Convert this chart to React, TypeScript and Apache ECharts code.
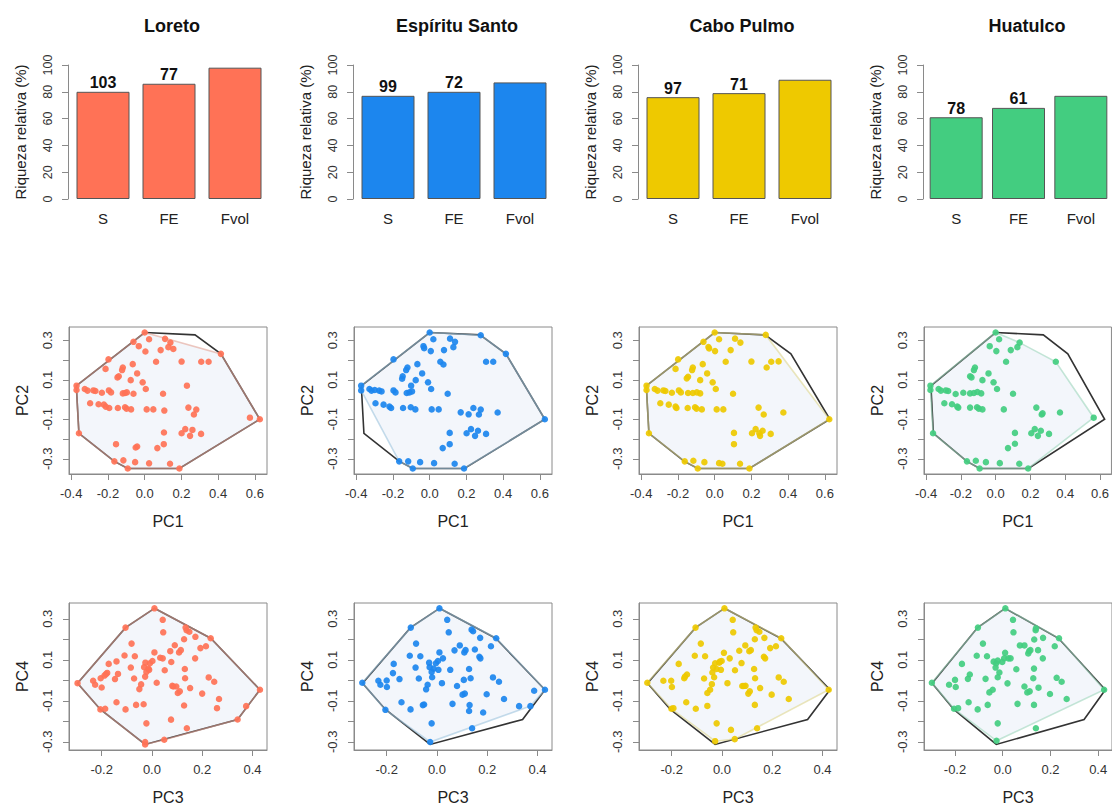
import React, { useEffect, useRef } from "react";
import * as echarts from "echarts";

const sites = ["Loreto", "Espíritu Santo", "Cabo Pulmo", "Huatulco"];
const siteColors = ["#FF7256", "#1C86EE", "#EEC900", "#43CD80"];
const siteLineColors = ["#E2A496", "#9EC4DE", "#DDD590", "#9ED6BC"];
const barCategories = ["S", "FE", "Fvol"];
const loretoBars = [80, 86, 98];
const espirituBars = [77, 80, 87];
const caboBars = [76, 79, 89];
const huatulcoBars = [61, 68, 77];
const loretoCounts = ["103", "77"];
const espirituCounts = ["99", "72"];
const caboCounts = ["97", "71"];
const huatulcoCounts = ["78", "61"];

const pc1Ticks = [-0.4, -0.2, 0, 0.2, 0.4, 0.6];
const pc2Ticks = [-0.3, -0.2, -0.1, 0, 0.1, 0.2, 0.3];
const pc2Labels = [-0.3, -0.1, 0.1, 0.3];
const pc3Ticks = [-0.2, 0, 0.2, 0.4];
const pc4Ticks = [-0.3, -0.2, -0.1, 0, 0.1, 0.2, 0.3];
const pc4Labels = [-0.3, -0.1, 0.1, 0.3];

const globalHull12 = [[0.0, 0.339], [0.274, 0.327], [0.415, 0.231], [0.627, -0.1], [0.189, -0.349], [-0.092, -0.349], [-0.165, -0.313], [-0.358, -0.171], [-0.371, 0.048], [-0.371, 0.07]];
const globalHull34 = [[0.01, 0.351], [0.234, 0.205], [0.43, -0.046], [0.341, -0.191], [-0.027, -0.313], [-0.205, -0.142], [-0.296, -0.014], [-0.105, 0.257]];

const loretoHull12 = [[0.0, 0.339], [0.415, 0.231], [0.627, -0.1], [0.189, -0.349], [-0.092, -0.349], [-0.165, -0.313], [-0.358, -0.171], [-0.371, 0.048], [-0.371, 0.07]];
const espirituHull12 = [[0.0, 0.339], [0.278, 0.325], [0.415, 0.231], [0.627, -0.1], [0.187, -0.349], [-0.092, -0.349], [-0.166, -0.313], [-0.373, 0.046], [-0.373, 0.07]];
const caboHull12 = [[0.0, 0.339], [0.278, 0.327], [0.624, -0.1], [0.189, -0.349], [-0.092, -0.349], [-0.163, -0.313], [-0.358, -0.171], [-0.371, 0.048], [-0.371, 0.07]];
const huatulcoHull12 = [[0.0, 0.339], [0.138, 0.288], [0.346, 0.191], [0.564, -0.092], [0.187, -0.349], [-0.092, -0.349], [-0.165, -0.313], [-0.36, -0.171], [-0.375, 0.048], [-0.375, 0.07]];

const loretoHull34 = [[0.01, 0.351], [0.234, 0.205], [0.43, -0.046], [0.341, -0.191], [0.049, -0.29], [-0.027, -0.313], [-0.205, -0.142], [-0.296, -0.014], [-0.105, 0.257]];
const espirituHull34 = [[0.01, 0.351], [0.236, 0.205], [0.43, -0.046], [0.372, -0.126], [-0.027, -0.301], [-0.205, -0.144], [-0.297, -0.012], [-0.104, 0.257]];
const caboHull34 = [[0.01, 0.351], [0.236, 0.205], [0.425, -0.046], [0.051, -0.287], [-0.027, -0.297], [-0.201, -0.139], [-0.297, -0.012], [-0.105, 0.257]];
const huatulcoHull34 = [[0.011, 0.351], [0.236, 0.205], [0.425, -0.046], [-0.026, -0.295], [-0.204, -0.139], [-0.297, -0.012], [-0.104, 0.257]];

const loretoPC12 = [[0.0, 0.339], [0.024, 0.305], [-0.061, 0.292], [-0.032, 0.27], [0.004, 0.243], [0.111, 0.307], [0.14, 0.288], [0.129, 0.265], [0.156, 0.256], [0.087, 0.25], [0.062, 0.191], [0.201, 0.192], [0.308, 0.191], [0.348, 0.191], [0.415, 0.231], [-0.197, 0.203], [-0.213, 0.155], [-0.119, 0.162], [-0.123, 0.149], [-0.065, 0.179], [-0.148, 0.112], [-0.141, 0.118], [-0.076, 0.098], [-0.041, 0.132], [-0.011, 0.087], [0.006, 0.053], [0.1, 0.029], [0.23, 0.07], [-0.371, 0.07], [-0.371, 0.048], [-0.326, 0.053], [-0.311, 0.045], [-0.279, 0.046], [-0.268, 0.043], [-0.233, 0.034], [-0.195, 0.046], [-0.183, 0.036], [-0.119, 0.031], [-0.107, 0.033], [-0.097, 0.036], [-0.061, 0.029], [-0.297, -0.019], [-0.251, -0.024], [-0.222, -0.026], [-0.212, -0.036], [-0.193, -0.043], [-0.146, -0.043], [-0.107, -0.039], [-0.099, -0.046], [-0.074, -0.05], [0.011, -0.05], [0.047, -0.05], [0.107, -0.056], [0.238, -0.041], [0.281, -0.051], [0.268, -0.076], [0.573, -0.092], [0.627, -0.1], [-0.358, -0.171], [0.221, -0.15], [0.201, -0.171], [0.26, -0.154], [0.247, -0.184], [0.307, -0.174], [0.105, -0.167], [0.104, -0.226], [0.069, -0.246], [-0.049, -0.243], [-0.041, -0.238], [-0.156, -0.226], [-0.165, -0.313], [-0.116, -0.308], [-0.052, -0.317], [0.024, -0.323], [0.138, -0.325], [-0.092, -0.349], [0.189, -0.349]];
const espirituPC12 = [[0.0, 0.339], [0.02, 0.305], [-0.034, 0.27], [-0.03, 0.26], [0.006, 0.245], [0.111, 0.308], [0.138, 0.292], [0.129, 0.265], [0.078, 0.25], [0.058, 0.191], [0.075, 0.177], [0.278, 0.325], [0.415, 0.231], [0.307, 0.191], [0.346, 0.191], [-0.197, 0.203], [-0.067, 0.179], [-0.121, 0.162], [-0.128, 0.149], [-0.041, 0.132], [-0.147, 0.118], [-0.15, 0.105], [-0.076, 0.098], [-0.009, 0.087], [-0.101, 0.07], [0.008, 0.053], [0.098, 0.029], [-0.373, 0.07], [-0.373, 0.046], [-0.328, 0.053], [-0.317, 0.045], [-0.299, 0.048], [-0.275, 0.045], [-0.262, 0.041], [-0.197, 0.046], [-0.186, 0.036], [-0.125, 0.033], [-0.11, 0.036], [-0.096, 0.041], [-0.295, -0.019], [-0.251, -0.026], [-0.219, -0.036], [-0.21, -0.043], [-0.145, -0.043], [-0.103, -0.039], [-0.078, -0.05], [0.011, -0.05], [0.049, -0.05], [0.169, -0.065], [0.212, -0.075], [0.238, -0.043], [0.278, -0.051], [0.268, -0.076], [0.37, -0.066], [0.627, -0.1], [0.109, -0.169], [0.109, -0.226], [0.071, -0.246], [0.201, -0.171], [0.225, -0.15], [0.247, -0.184], [0.263, -0.158], [0.307, -0.174], [-0.166, -0.313], [-0.117, -0.313], [-0.052, -0.317], [0.024, -0.322], [0.136, -0.325], [-0.092, -0.349], [0.187, -0.349]];
const caboPC12 = [[0.0, 0.339], [0.024, 0.305], [-0.061, 0.292], [-0.034, 0.266], [-0.03, 0.258], [0.002, 0.245], [0.111, 0.308], [0.14, 0.288], [0.087, 0.25], [0.06, 0.191], [0.2, 0.192], [0.308, 0.191], [0.348, 0.193], [0.283, 0.162], [0.278, 0.327], [0.624, -0.1], [-0.199, 0.203], [-0.213, 0.155], [-0.145, 0.115], [-0.152, 0.107], [-0.119, 0.162], [-0.123, 0.149], [-0.065, 0.179], [-0.041, 0.132], [-0.079, 0.098], [-0.011, 0.087], [0.006, 0.053], [0.1, 0.029], [-0.371, 0.07], [-0.371, 0.048], [-0.326, 0.053], [-0.311, 0.045], [-0.279, 0.046], [-0.268, 0.043], [-0.233, 0.034], [-0.195, 0.046], [-0.184, 0.036], [-0.145, 0.033], [-0.119, 0.033], [-0.097, 0.036], [-0.079, 0.031], [-0.296, -0.019], [-0.25, -0.026], [-0.213, -0.036], [-0.208, -0.043], [-0.147, -0.043], [-0.107, -0.039], [-0.099, -0.046], [-0.07, -0.05], [0.011, -0.05], [0.047, -0.05], [0.239, -0.041], [0.267, -0.076], [0.374, -0.066], [-0.358, -0.171], [0.105, -0.169], [0.105, -0.226], [0.203, -0.171], [0.223, -0.15], [0.243, -0.171], [0.261, -0.158], [0.247, -0.184], [0.305, -0.174], [-0.163, -0.313], [-0.116, -0.31], [-0.056, -0.317], [0.024, -0.322], [0.042, -0.325], [0.138, -0.325], [-0.092, -0.349], [0.189, -0.349]];
const huatulcoPC12 = [[0.0, 0.339], [0.02, 0.305], [-0.034, 0.27], [0.004, 0.245], [0.087, 0.25], [0.125, 0.265], [0.138, 0.288], [0.06, 0.191], [0.346, 0.191], [0.564, -0.092], [-0.119, 0.162], [-0.125, 0.149], [-0.147, 0.118], [-0.139, 0.112], [-0.076, 0.098], [-0.041, 0.132], [-0.012, 0.087], [0.008, 0.053], [0.1, 0.029], [-0.375, 0.07], [-0.375, 0.048], [-0.328, 0.053], [-0.315, 0.045], [-0.286, 0.046], [-0.273, 0.043], [-0.23, 0.028], [-0.186, 0.034], [-0.147, 0.031], [-0.125, 0.033], [-0.105, 0.038], [-0.083, 0.031], [-0.295, -0.019], [-0.251, -0.024], [-0.221, -0.036], [-0.215, -0.041], [-0.147, -0.041], [-0.107, -0.039], [-0.097, -0.046], [-0.076, -0.05], [0.047, -0.05], [0.234, -0.041], [0.265, -0.076], [0.27, -0.07], [0.37, -0.066], [-0.36, -0.171], [0.111, -0.169], [0.111, -0.224], [0.071, -0.246], [0.205, -0.171], [0.225, -0.15], [0.243, -0.184], [0.26, -0.158], [0.307, -0.174], [-0.165, -0.313], [-0.114, -0.31], [-0.056, -0.317], [0.024, -0.322], [0.136, -0.325], [-0.092, -0.349], [0.187, -0.349]];

const loretoPC34 = [[0.01, 0.351], [0.043, 0.295], [0.045, 0.234], [-0.105, 0.257], [-0.081, 0.179], [-0.109, 0.121], [-0.068, 0.117], [-0.172, 0.08], [-0.141, 0.092], [-0.178, 0.036], [-0.183, 0.03], [-0.189, 0.023], [-0.204, 0.01], [-0.234, -0.002], [-0.226, -0.022], [-0.2, -0.035], [-0.296, -0.014], [-0.135, 0.031], [-0.147, 0.006], [-0.071, 0.009], [-0.084, 0.062], [-0.026, 0.086], [-0.031, 0.064], [-0.022, 0.041], [-0.014, 0.057], [-0.008, 0.083], [0.002, 0.094], [0.01, 0.136], [0.033, 0.11], [0.043, 0.107], [-0.043, -0.02], [-0.05, -0.043], [-0.027, 0.018], [-0.011, 0.051], [0.019, -0.012], [0.051, 0.049], [0.077, 0.089], [0.073, 0.142], [0.091, 0.171], [0.108, 0.136], [0.115, 0.147], [0.128, 0.2], [0.138, 0.244], [0.149, 0.237], [0.134, 0.257], [0.173, 0.212], [0.193, 0.157], [0.215, 0.166], [0.172, 0.107], [0.131, 0.055], [0.132, 0.01], [0.128, -0.123], [0.081, -0.027], [0.085, -0.03], [0.097, -0.03], [0.103, -0.062], [0.111, -0.054], [0.152, -0.038], [0.2, -0.065], [0.226, 0.014], [0.248, -0.007], [0.267, -0.091], [0.259, -0.136], [0.234, 0.205], [0.43, -0.046], [0.375, -0.126], [0.341, -0.191], [-0.141, -0.107], [-0.105, -0.142], [-0.063, -0.12], [-0.033, -0.117], [-0.205, -0.142], [-0.186, -0.139], [-0.022, -0.21], [0.076, -0.192], [0.139, -0.234], [-0.027, -0.301], [-0.027, -0.313], [0.049, -0.29]];
const espirituPC34 = [[0.01, 0.351], [0.041, 0.295], [0.047, 0.234], [-0.104, 0.257], [-0.083, 0.179], [-0.108, 0.12], [-0.066, 0.117], [-0.172, 0.08], [-0.175, 0.035], [-0.149, 0.006], [-0.2, -0.001], [-0.233, -0.002], [-0.225, -0.022], [-0.199, -0.033], [-0.297, -0.012], [-0.072, 0.009], [-0.085, 0.062], [-0.031, 0.086], [-0.029, 0.064], [-0.021, 0.041], [-0.013, 0.057], [-0.004, 0.083], [0.004, 0.094], [0.01, 0.136], [0.024, 0.107], [0.006, 0.051], [-0.043, -0.044], [-0.037, -0.022], [-0.019, 0.015], [0.02, -0.014], [0.053, 0.051], [0.07, 0.146], [0.091, 0.17], [0.109, 0.136], [0.114, 0.147], [0.138, 0.247], [0.144, 0.239], [0.172, 0.207], [0.169, 0.115], [0.173, 0.107], [0.151, 0.15], [0.215, 0.166], [0.128, 0.055], [0.134, 0.01], [0.107, 0.002], [0.111, -0.065], [0.102, -0.07], [0.08, -0.028], [0.13, -0.121], [0.128, -0.15], [0.184, -0.157], [0.198, -0.068], [0.223, 0.014], [0.247, -0.007], [0.267, -0.091], [0.236, 0.205], [0.43, -0.046], [0.387, -0.051], [0.372, -0.126], [0.327, -0.126], [-0.141, -0.107], [-0.105, -0.142], [-0.056, -0.121], [-0.051, -0.118], [-0.205, -0.144], [-0.021, -0.21], [0.062, -0.115], [0.14, -0.234], [-0.027, -0.301]];
const caboPC34 = [[0.01, 0.351], [0.043, 0.295], [0.045, 0.234], [-0.105, 0.257], [-0.084, 0.179], [-0.108, 0.12], [-0.067, 0.117], [-0.172, 0.08], [-0.139, 0.028], [-0.147, 0.018], [-0.15, 0.01], [-0.202, -0.002], [-0.233, -0.002], [-0.199, -0.033], [-0.297, -0.012], [-0.071, 0.009], [-0.031, 0.015], [-0.038, 0.038], [-0.035, 0.062], [-0.027, 0.083], [-0.021, 0.055], [-0.011, 0.086], [-0.008, 0.091], [-0.001, 0.094], [0.008, 0.134], [0.031, 0.107], [-0.004, 0.051], [-0.058, -0.062], [-0.047, -0.046], [-0.04, -0.019], [0.022, -0.014], [0.052, 0.049], [0.069, 0.144], [0.078, 0.084], [0.109, 0.142], [0.115, 0.147], [0.093, 0.17], [0.131, 0.2], [0.138, 0.245], [0.149, 0.237], [0.134, 0.257], [0.169, 0.207], [0.167, 0.115], [0.172, 0.107], [0.192, 0.157], [0.215, 0.166], [0.236, 0.205], [0.128, 0.055], [0.132, 0.01], [0.094, -0.027], [0.081, -0.028], [0.087, -0.028], [0.105, -0.065], [0.111, -0.054], [0.152, -0.038], [0.131, -0.12], [0.198, -0.07], [0.226, 0.014], [0.246, -0.007], [0.266, -0.091], [0.425, -0.046], [-0.104, -0.139], [-0.058, -0.125], [-0.142, -0.107], [-0.201, -0.139], [-0.193, -0.136], [-0.021, -0.21], [0.036, -0.242], [0.051, -0.287], [0.14, -0.234], [-0.027, -0.297]];
const huatulcoPC34 = [[0.011, 0.351], [0.043, 0.295], [0.045, 0.234], [-0.104, 0.257], [-0.083, 0.179], [-0.109, 0.12], [-0.066, 0.117], [-0.171, 0.08], [-0.138, 0.028], [-0.146, 0.007], [-0.2, 0.002], [-0.225, -0.022], [-0.197, -0.033], [-0.297, -0.012], [-0.072, 0.007], [-0.021, 0.015], [-0.014, 0.038], [-0.03, 0.062], [-0.027, 0.083], [-0.038, 0.091], [-0.021, 0.096], [0.006, 0.107], [-0.002, 0.089], [0.01, 0.134], [0.024, 0.107], [0.033, 0.107], [-0.056, -0.059], [-0.042, -0.046], [0.02, -0.015], [0.057, 0.054], [0.131, 0.057], [0.072, 0.17], [0.091, 0.17], [0.111, 0.142], [0.107, 0.131], [0.116, 0.147], [0.148, 0.147], [0.132, 0.199], [0.139, 0.253], [0.138, 0.244], [0.169, 0.207], [0.168, 0.107], [0.218, 0.166], [0.128, 0.01], [0.091, -0.03], [0.103, -0.059], [0.113, -0.054], [0.15, -0.036], [0.198, -0.067], [0.226, 0.012], [0.247, -0.007], [0.268, -0.091], [0.236, 0.205], [0.062, -0.115], [0.131, -0.12], [-0.143, -0.107], [-0.063, -0.12], [-0.204, -0.139], [-0.187, -0.136], [-0.105, -0.142], [-0.021, -0.21], [0.139, -0.234], [-0.026, -0.295], [0.425, -0.046]];

const allBars = [loretoBars, espirituBars, caboBars, huatulcoBars];
const allCounts = [loretoCounts, espirituCounts, caboCounts, huatulcoCounts];
const allPC12 = [loretoPC12, espirituPC12, caboPC12, huatulcoPC12];
const allPC34 = [loretoPC34, espirituPC34, caboPC34, huatulcoPC34];
const allHull12 = [loretoHull12, espirituHull12, caboHull12, huatulcoHull12];
const allHull34 = [loretoHull34, espirituHull34, caboHull34, huatulcoHull34];

const FONT = "Liberation Sans, Arial, sans-serif";
const AXIS_GRAY = "#8a8a8a";
const LABEL_COL = "#333";
const fmt = (v: number) => (Math.abs(v) < 1e-9 ? "0.0" : v.toFixed(1));

function polySeries(pts: number[][], axisIdx: number, style: any, z: number) {
  return {
    type: "custom",
    xAxisIndex: axisIdx,
    yAxisIndex: axisIdx,
    data: [pts[0]],
    silent: true,
    z,
    renderItem: (_p: any, api: any) => ({
      type: "polygon",
      shape: { points: pts.map((p) => api.coord(p)) },
      style,
    }),
  };
}

function buildOption() {
  const grid: any[] = [];
  const xAxis: any[] = [];
  const yAxis: any[] = [];
  const series: any[] = [];
  const title: any[] = [];

  for (let c = 0; c < 4; c++) {
    const off = c * 285;
    const color = siteColors[c];
    title.push({
      text: sites[c],
      left: 167 + off,
      top: 12,
      textAlign: "center",
      textStyle: { fontFamily: FONT, fontSize: 18, fontWeight: "bold", color: "#111" },
    });

    const bi = grid.length;
    grid.push({ left: 70 + off, top: 65, width: 198, height: 134 });
    xAxis.push({
      type: "category",
      gridIndex: bi,
      data: barCategories,
      axisLine: { show: false },
      axisTick: { show: false },
      axisLabel: { fontFamily: FONT, fontSize: 15, color: "#222", margin: 12 },
    });
    yAxis.push({
      type: "value",
      gridIndex: bi,
      min: 0,
      max: 100,
      interval: 20,
      offset: 2,
      name: "Riqueza relativa (%)",
      nameLocation: "middle",
      nameGap: 40,
      nameTextStyle: { fontFamily: FONT, fontSize: 15, color: "#222" },
      axisLine: { show: true, lineStyle: { color: AXIS_GRAY } },
      axisTick: { show: true, length: 6, lineStyle: { color: AXIS_GRAY } },
      axisLabel: { rotate: 90, fontFamily: FONT, fontSize: 12.5, color: LABEL_COL, margin: 14 },
      splitLine: { show: false },
    });
    series.push({
      type: "bar",
      xAxisIndex: bi,
      yAxisIndex: bi,
      barWidth: 53,
      itemStyle: { color, borderColor: "#555", borderWidth: 1 },
      data: allBars[c].map((v, i) => ({
        value: v,
        label: {
          show: i < allCounts[c].length,
          position: "top",
          distance: 1,
          formatter: allCounts[c][i] ?? "",
          fontFamily: FONT,
          fontSize: 16,
          fontWeight: "bold",
          color: "#111",
        },
      })),
    });

    const panels = [
      { top: 327, height: 147, xr: [-0.412, 0.666], yr: [-0.377, 0.367], xt: pc1Ticks, yt: pc2Ticks, yl: pc2Labels, xn: "PC1", yn: "PC2", pts: allPC12[c], hull: allHull12[c], ghull: globalHull12 },
      { top: 603, height: 148, xr: [-0.33, 0.458], yr: [-0.34, 0.377], xt: pc3Ticks, yt: pc4Ticks, yl: pc4Labels, xn: "PC3", yn: "PC4", pts: allPC34[c], hull: allHull34[c], ghull: globalHull34 },
    ];
    for (const p of panels) {
      const gi = grid.length;
      grid.push({ left: 69 + off, top: p.top, width: 198, height: p.height, show: true, borderColor: AXIS_GRAY, borderWidth: 1, backgroundColor: "transparent" });
      xAxis.push({
        type: "value",
        gridIndex: gi,
        min: p.xr[0],
        max: p.xr[1],
        name: p.xn,
        nameLocation: "middle",
        nameGap: 39,
        nameTextStyle: { fontFamily: FONT, fontSize: 16, color: "#222" },
        axisLine: { show: true, onZero: false, lineStyle: { color: AXIS_GRAY } },
        axisTick: { show: true, length: 6, customValues: p.xt, lineStyle: { color: AXIS_GRAY } },
        axisLabel: { customValues: p.xt, formatter: fmt, fontFamily: FONT, fontSize: 13, color: LABEL_COL, margin: 13 },
        splitLine: { show: false },
      });
      yAxis.push({
        type: "value",
        gridIndex: gi,
        min: p.yr[0],
        max: p.yr[1],
        name: p.yn,
        nameLocation: "middle",
        nameGap: 39,
        nameTextStyle: { fontFamily: FONT, fontSize: 16, color: "#222" },
        axisLine: { show: true, onZero: false, lineStyle: { color: AXIS_GRAY } },
        axisTick: { show: true, length: 6, customValues: p.yt, lineStyle: { color: AXIS_GRAY } },
        axisLabel: { customValues: p.yl, formatter: fmt, rotate: 90, fontFamily: FONT, fontSize: 13, color: LABEL_COL, margin: 15 },
        splitLine: { show: false },
      });
      series.push(polySeries(p.hull, gi, { fill: "#F3F6FB", stroke: "none" }, 1));
      series.push(polySeries(p.ghull, gi, { fill: "none", stroke: "#333", lineWidth: 1.6 }, 2));
      series.push(polySeries(p.hull, gi, { fill: "none", stroke: siteLineColors[c], lineWidth: 1.6, opacity: 0.6 }, 3));
      series.push({
        type: "scatter",
        xAxisIndex: gi,
        yAxisIndex: gi,
        symbol: "circle",
        symbolSize: 6.5,
        z: 4,
        itemStyle: { color, opacity: 0.92 },
        data: p.pts,
      });
    }
  }

  return {
    animation: false,
    backgroundColor: "#ffffff",
    title,
    grid,
    xAxis,
    yAxis,
    series,
  };
}

export default function App() {
  const ref = useRef<HTMLDivElement>(null);
  useEffect(() => {
    if (!ref.current) return;
    const chart = echarts.init(ref.current, undefined, { renderer: "svg" });
    chart.setOption(buildOption() as any);
    return () => chart.dispose();
  }, []);
  return (
    <div
      ref={ref}
      style={{ position: "fixed", left: 0, top: 0, width: 1112, height: 806, background: "#fff" }}
    />
  );
}
